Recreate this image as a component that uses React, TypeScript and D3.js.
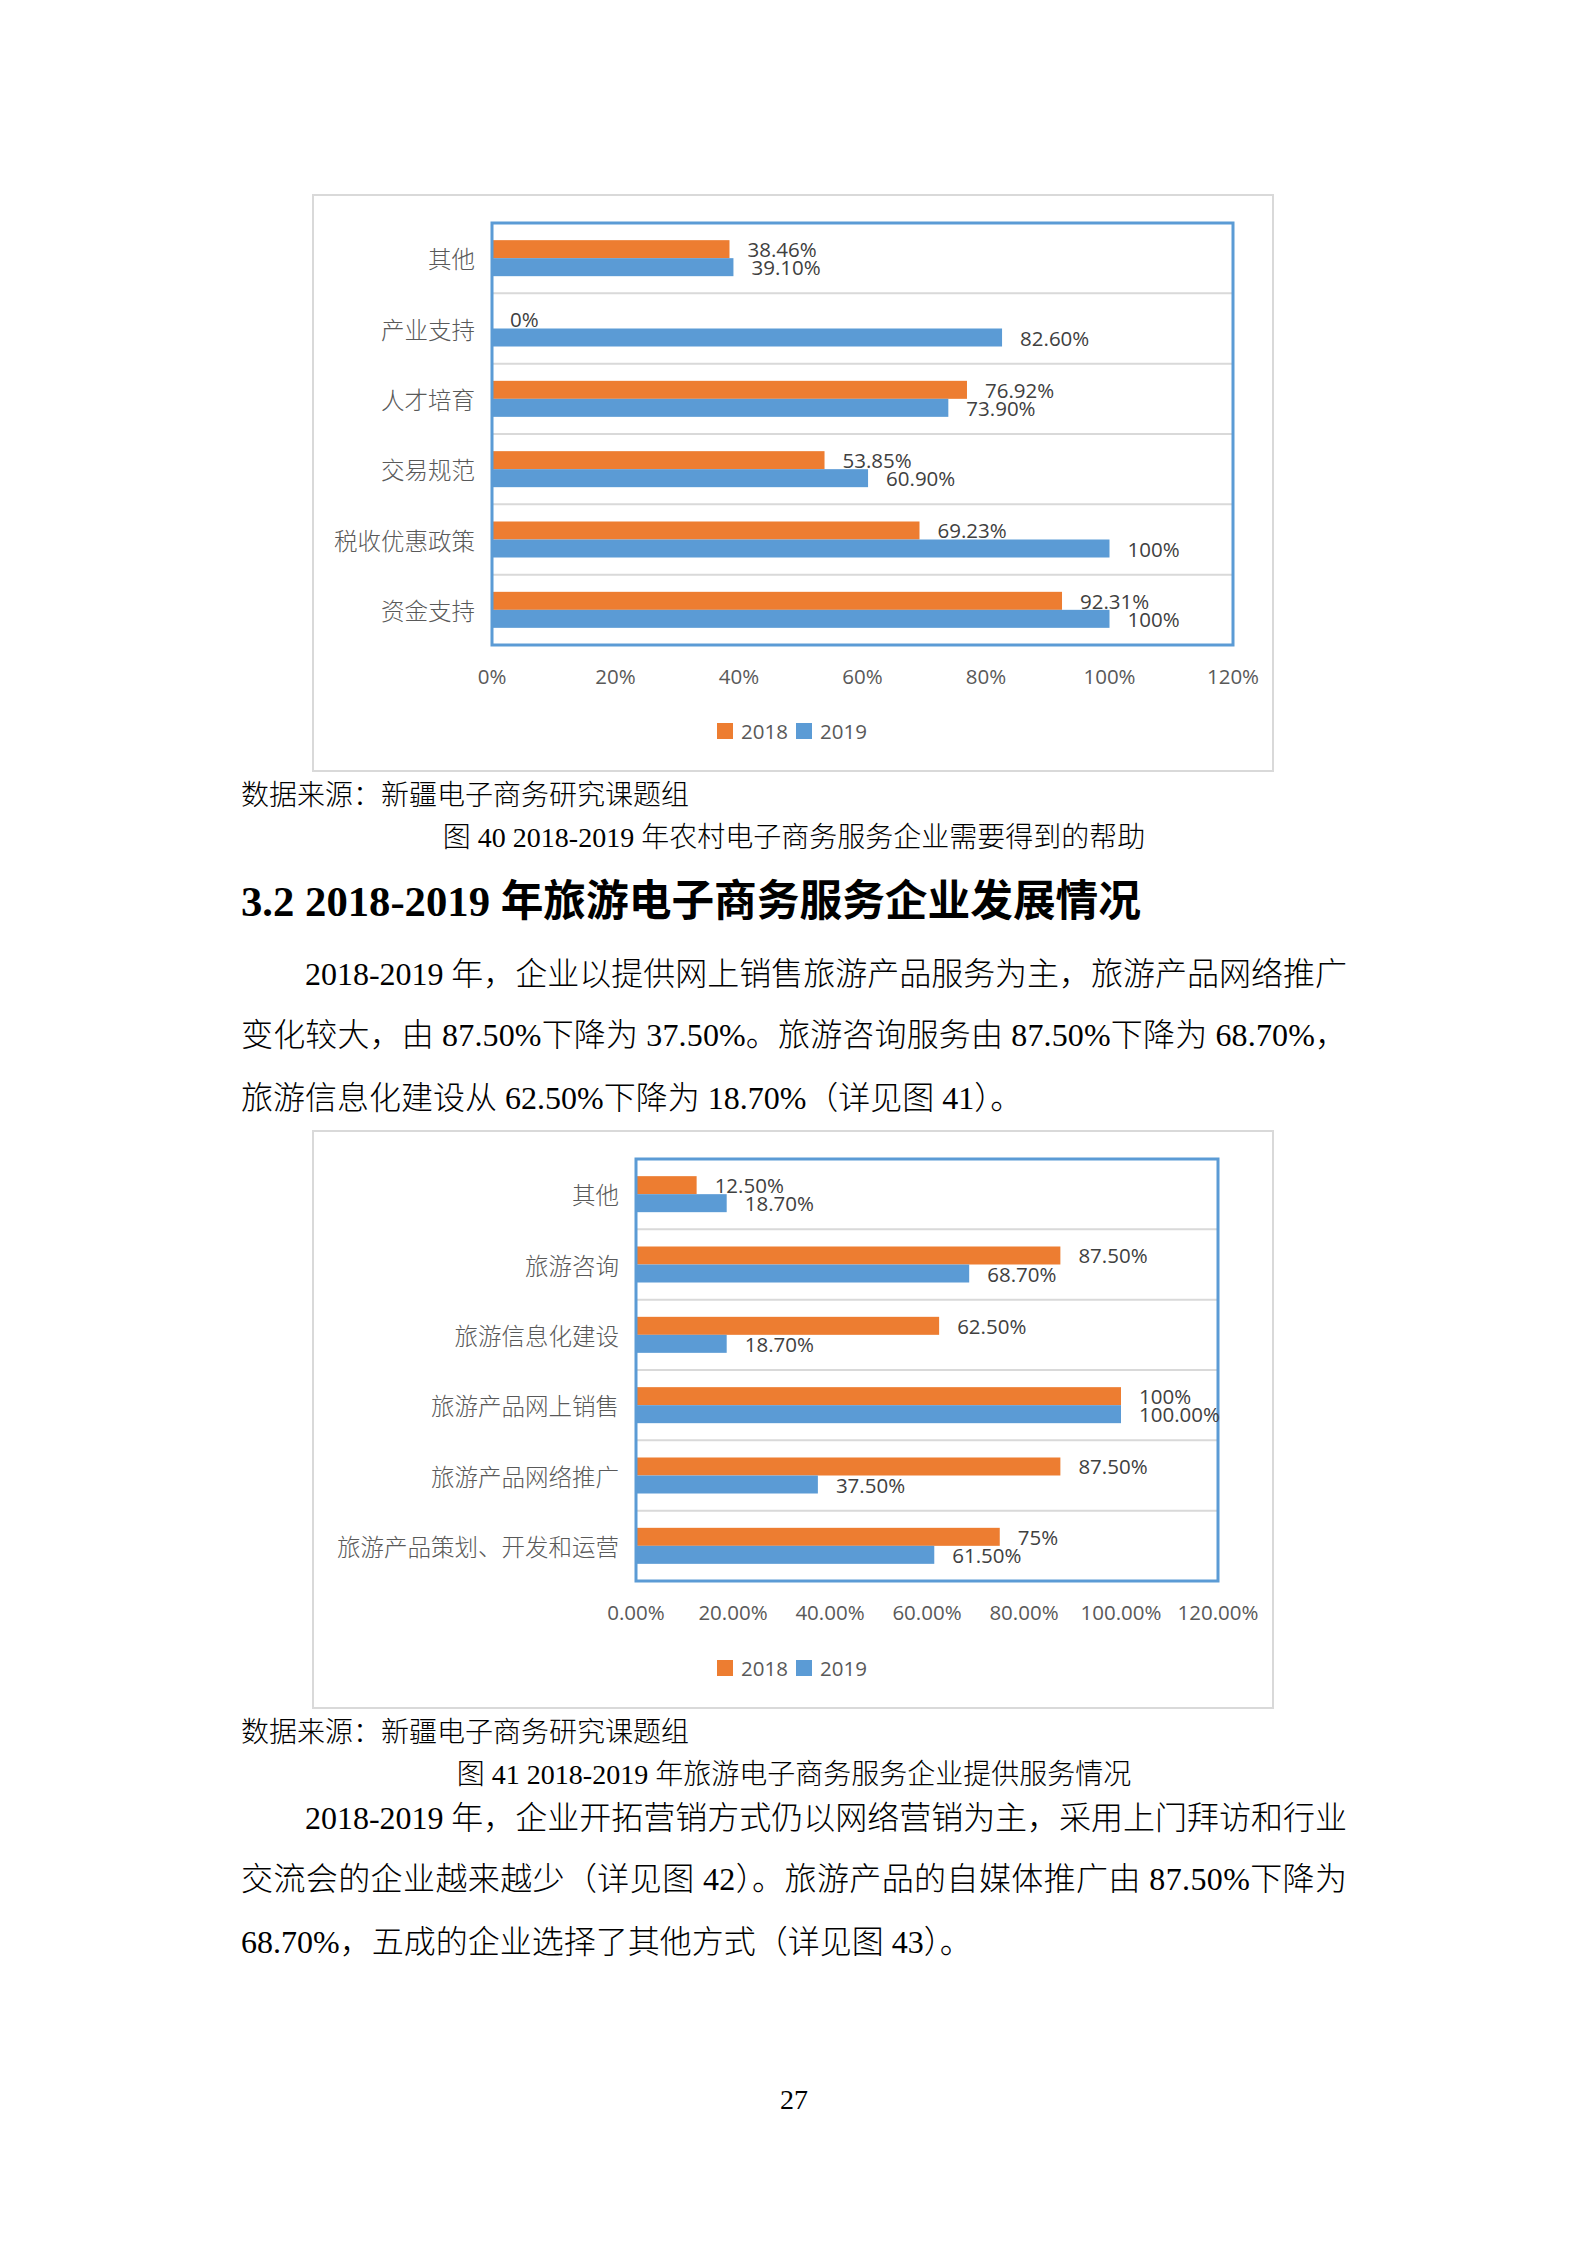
import React from "react";
import * as d3 from "d3";

// ---- data: figure 40 ----
const cats1 = ["其他", "产业支持", "人才培育", "交易规范", "税收优惠政策", "资金支持"];
const vals1_2018 = [0.3846, 0, 0.7692, 0.5385, 0.6923, 0.9231];
const vals1_2019 = [0.391, 0.826, 0.739, 0.609, 1.0, 1.0];
const labels1_2018 = ["38.46%", "0%", "76.92%", "53.85%", "69.23%", "92.31%"];
const labels1_2019 = ["39.10%", "82.60%", "73.90%", "60.90%", "100%", "100%"];

// ---- data: figure 41 ----
const cats2 = ["其他", "旅游咨询", "旅游信息化建设", "旅游产品网上销售", "旅游产品网络推广", "旅游产品策划、开发和运营"];
const vals2_2018 = [0.125, 0.875, 0.625, 1.0, 0.875, 0.75];
const vals2_2019 = [0.187, 0.687, 0.187, 1.0, 0.375, 0.615];
const labels2_2018 = ["12.50%", "87.50%", "62.50%", "100%", "87.50%", "75%"];
const labels2_2019 = ["18.70%", "68.70%", "18.70%", "100.00%", "37.50%", "61.50%"];

const years = ["2018", "2019"];
const tickValues = [0, 0.2, 0.4, 0.6, 0.8, 1.0, 1.2];
const tickLabels1 = ["0%", "20%", "40%", "60%", "80%", "100%", "120%"];
const tickLabels2 = ["0.00%", "20.00%", "40.00%", "60.00%", "80.00%", "100.00%", "120.00%"];

const W = 1587, H = 2245;
const ORANGE = "#ED7D31", BLUE = "#5B9BD5";
const color = d3.scaleOrdinal<string, string>().domain(years).range([ORANGE, BLUE]);

const NUM_FONT = "'Open Sans', 'Noto Sans CJK SC', sans-serif";
const CJK_FONT = "'Noto Sans CJK SC', sans-serif";
const LATIN_SERIF = "'Liberation Serif', serif";

function BarPanel({ frame, plot, cats, v18, v19, l18, l19, tickLabels, tickY, legendY }: any) {
  const x = d3.scaleLinear().domain([0, 1.2]).range([plot.x0, plot.x1]);
  const y = d3.scaleBand().domain(cats).range([plot.y0, plot.y1]).paddingInner(0.488).paddingOuter(0.244);
  const sub = d3.scaleBand().domain(years).range([0, y.bandwidth()]);
  const step = y.step();
  const series = [
    { key: "2018", vals: v18, labels: l18 },
    { key: "2019", vals: v19, labels: l19 },
  ];

  return (
    <g>
      <rect x={frame.x} y={frame.y} width={frame.w} height={frame.h} fill="#fff" stroke="#D9D9D9" strokeWidth={2} />
      {/* category separators */}
      {cats.slice(1).map((c: string, i: number) => (
        <line key={c} x1={plot.x0} x2={plot.x1} y1={plot.y0 + (i + 1) * step} y2={plot.y0 + (i + 1) * step}
          stroke="#D9D9D9" strokeWidth={2} />
      ))}
      {series.map((s) =>
        cats.map((c: string, i: number) => (
          <rect key={s.key + c} x={x(0)} y={(y(c) as number) + (sub(s.key) as number)}
            width={x(s.vals[i]) - x(0)} height={sub.bandwidth()} fill={color(s.key)} />
        ))
      )}
      <rect x={plot.x0} y={plot.y0} width={plot.x1 - plot.x0} height={plot.y1 - plot.y0}
        fill="none" stroke={BLUE} strokeWidth={3} />
      {/* category labels */}
      {cats.map((c: string) => (
        <text key={c} x={plot.x0 - 17} y={(y(c) as number) + y.bandwidth() / 2} textAnchor="end"
          dominantBaseline="central" fontFamily={CJK_FONT} fontWeight={300} fontSize={23.5} fill="#595959">{c}</text>
      ))}
      {/* value labels */}
      {series.map((s) =>
        cats.map((c: string, i: number) => (
          <text key={"l" + s.key + c} x={x(s.vals[i]) + 18}
            y={(y(c) as number) + (sub(s.key) as number) + sub.bandwidth() / 2}
            dominantBaseline="central" fontFamily={NUM_FONT} fontSize={20.5} fill="#404040">{s.labels[i]}</text>
        ))
      )}
      {/* x ticks */}
      {tickValues.map((t, i) => (
        <text key={"t" + i} x={x(t)} y={tickY} textAnchor="middle" dominantBaseline="central"
          fontFamily={NUM_FONT} fontSize={20.5} fill="#595959">{tickLabels[i]}</text>
      ))}
      {/* legend */}
      {years.map((yr, i) => (
        <g key={yr} transform={`translate(${717 + i * 79},${legendY})`}>
          <rect x={0} y={-8} width={16} height={16} fill={color(yr)} />
          <text x={24} y={0} dominantBaseline="central" fontFamily={NUM_FONT} fontSize={20.5} fill="#595959">{yr}</text>
        </g>
      ))}
    </g>
  );
}

// split into ASCII (Times-like) and CJK (fallback) runs, like Word does
function Line({ x, y, size = 32, w, children, bold, anchor }: any) {
  const parts: string[] = String(children).match(/[\x00-\x7F]+|[^\x00-\x7F]+/g) || [];
  return (
    <text x={x} y={y} fontSize={size} fill="#000" textAnchor={anchor || "start"}
      textLength={w} lengthAdjust={w ? "spacing" : undefined} style={{ whiteSpace: "pre" }}>
      {parts.map((p, i) =>
        /^[\x00-\x7F]+$/.test(p) ? (
          <tspan key={i} fontFamily={LATIN_SERIF} fontWeight={bold ? 700 : 400}>{p}</tspan>
        ) : (
          <tspan key={i} fontFamily={CJK_FONT} fontWeight={bold ? 700 : 300}>{p}</tspan>
        )
      )}
    </text>
  );
}

export default function App() {
  return (
    <div style={{ position: "absolute", left: 0, top: 0, width: W, height: H, background: "#fff" }}>
      <svg width={W} height={H} viewBox={`0 0 ${W} ${H}`}>
        <rect width={W} height={H} fill="#fff" />
        <BarPanel frame={{ x: 313, y: 195, w: 960, h: 576 }} plot={{ x0: 492, x1: 1233, y0: 223, y1: 645 }}
          cats={cats1} v18={vals1_2018} v19={vals1_2019} l18={labels1_2018} l19={labels1_2019}
          tickLabels={tickLabels1} tickY={676} legendY={731} />

        <Line x={241} y={805} size={28}>数据来源：新疆电子商务研究课题组</Line>
        <Line x={794} y={847} size={28} anchor="middle">图 40 2018-2019 年农村电子商务服务企业需要得到的帮助</Line>
        <Line x={241} y={916} size={42.7} bold>3.2 2018-2019 年旅游电子商务服务企业发展情况</Line>
        <Line x={305} y={985} w={1042}>2018-2019 年，企业以提供网上销售旅游产品服务为主，旅游产品网络推广</Line>
        <Line x={241} y={1046} w={1106}>变化较大，由 87.50%下降为 37.50%。旅游咨询服务由 87.50%下降为 68.70%，</Line>
        <Line x={241} y={1109}>旅游信息化建设从 62.50%下降为 18.70%（详见图 41）。</Line>

        <BarPanel frame={{ x: 313, y: 1131, w: 960, h: 577 }} plot={{ x0: 636, x1: 1218, y0: 1159, y1: 1581 }}
          cats={cats2} v18={vals2_2018} v19={vals2_2019} l18={labels2_2018} l19={labels2_2019}
          tickLabels={tickLabels2} tickY={1612} legendY={1668} />

        <Line x={241} y={1742} size={28}>数据来源：新疆电子商务研究课题组</Line>
        <Line x={794} y={1784} size={28} anchor="middle">图 41 2018-2019 年旅游电子商务服务企业提供服务情况</Line>
        <Line x={305} y={1829} w={1042}>2018-2019 年，企业开拓营销方式仍以网络营销为主，采用上门拜访和行业</Line>
        <Line x={241} y={1890} w={1106}>交流会的企业越来越少（详见图 42）。旅游产品的自媒体推广由 87.50%下降为</Line>
        <Line x={241} y={1953}>68.70%，五成的企业选择了其他方式（详见图 43）。</Line>

        <Line x={794} y={2109} size={28} anchor="middle">27</Line>
      </svg>
    </div>
  );
}
